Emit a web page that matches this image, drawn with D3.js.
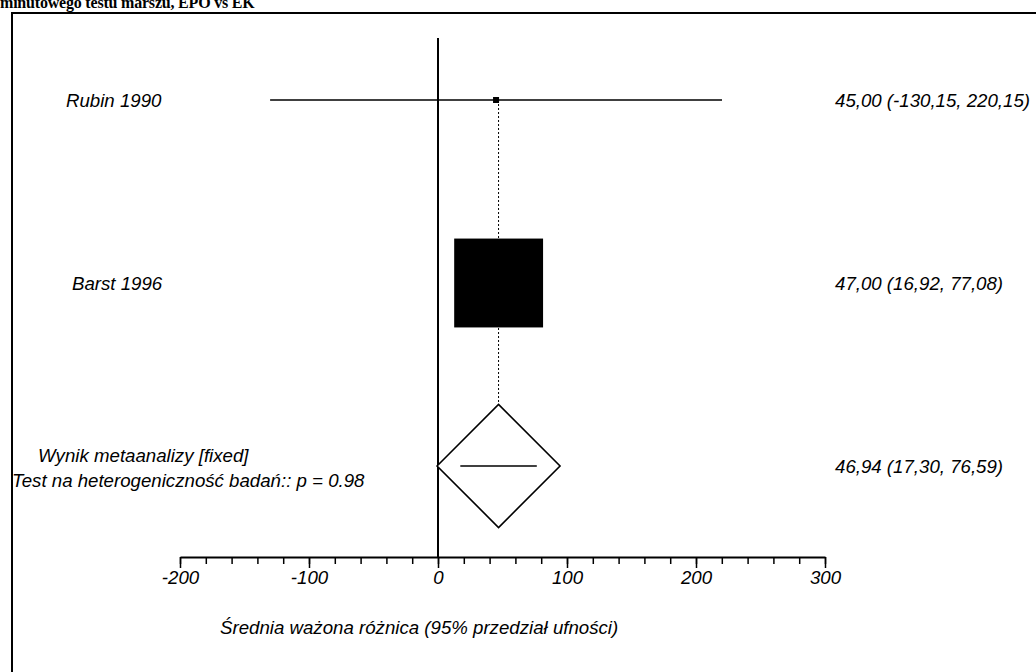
<!DOCTYPE html>
<html>
<head>
<meta charset="utf-8">
<script src="https://cdn.jsdelivr.net/npm/d3@7"></script>
<style>
  body { margin: 0; background: #fff; }
  svg { display: block; }
  .lbl { font-family: "Liberation Sans", Arial, sans-serif; font-style: italic; font-size: 18.67px; fill: #000; }
  .axis text { font-family: "Liberation Sans", Arial, sans-serif; font-style: italic; font-size: 18.67px; fill: #000; }
</style>
</head>
<body>
<svg width="1036" height="672"></svg>
<script>
// study data
const studies = ["Rubin 1990", "Barst 1996"];
const means = [45.00, 47.00];
const lower = [-130.15, 16.92];
const upper = [220.15, 77.08];
const weights = [2.86, 97.14];
const ciText = ["45,00 (-130,15, 220,15)", "47,00 (16,92, 77,08)"];

// pooled result
const pooledLabel = ["Wynik metaanalizy [fixed]", "Test na heterogeniczność badań:: p = 0.98"];
const pooled = { mean: 46.94, lower: 17.30, upper: 76.59, text: "46,94 (17,30, 76,59)" };

const majorTicks = [-200, -100, 0, 100, 200, 300];
const minorTicks = d3.range(-200, 301, 20);

const svg = d3.select('svg');

// title (clipped at top like the source)
svg.append('text')
  .attr('x', 0)
  .attr('y', 8)
  .style('font-family', '"Liberation Serif", "Times New Roman", serif')
  .style('font-weight', 'bold')
  .style('font-size', '16px')
  .style('letter-spacing', '-0.2px')
  .text('minutowego testu marszu, EPO vs EK');

// frame
svg.append('path')
  .attr('d', 'M12,680 L12,13 L1040,13')
  .attr('fill', 'none')
  .attr('stroke', '#000')
  .attr('stroke-width', 2);

const xScale = d3.scaleLinear().domain([-200, 300]).range([180, 825]);
const rows = studies.concat(['pooled']);
const yScale = d3.scalePoint().domain(rows).range([100, 466]);
const boxScale = d3.scaleLinear().domain([0, 100]).range([0, 91.5]);

const axisY = 557;

// zero line
svg.append('line')
  .attr('x1', xScale(0)).attr('x2', xScale(0))
  .attr('y1', 38).attr('y2', axisY)
  .attr('stroke', '#000').attr('stroke-width', 2);

// dotted line through pooled estimate
svg.append('line')
  .attr('x1', xScale(pooled.mean)).attr('x2', xScale(pooled.mean))
  .attr('y1', yScale(studies[0])).attr('y2', yScale('pooled') - 61)
  .attr('stroke', '#000').attr('stroke-width', 1)
  .attr('stroke-dasharray', '2,2');

// axes
svg.append('g')
  .attr('class', 'axis')
  .attr('transform', `translate(0, ${axisY})`)
  .call(d3.axisBottom(xScale).tickValues(minorTicks).tickSize(7).tickFormat(''))
  .call(g => g.select('.domain').remove())
  .selectAll('line').attr('stroke-width', 1.5);

const xAxis = svg.append('g')
  .attr('class', 'axis')
  .attr('transform', `translate(0, ${axisY})`)
  .call(d3.axisBottom(xScale).tickValues(majorTicks).tickSize(11).tickSizeOuter(0).tickPadding(3)
    .tickFormat(d => String(d)));
xAxis.select('.domain').attr('stroke-width', 2);
xAxis.selectAll('line').attr('stroke-width', 1.5);

// study rows
const row = svg.selectAll('.study')
  .data(studies)
  .enter()
  .append('g')
  .attr('class', 'study');

row.append('line')
  .attr('x1', (d, i) => xScale(lower[i]))
  .attr('x2', (d, i) => xScale(upper[i]))
  .attr('y1', d => yScale(d))
  .attr('y2', d => yScale(d))
  .attr('stroke', '#000').attr('stroke-width', 1.6);

row.append('rect')
  .attr('x', (d, i) => xScale(means[i]) - Math.max(6, boxScale(weights[i])) / 2)
  .attr('y', (d, i) => yScale(d) - Math.max(6, boxScale(weights[i])) / 2)
  .attr('width', (d, i) => Math.max(6, boxScale(weights[i])))
  .attr('height', (d, i) => Math.max(6, boxScale(weights[i])))
  .attr('fill', '#000');

row.append('text')
  .attr('class', 'lbl')
  .attr('x', (d, i) => i === 0 ? 66 : 72)
  .attr('y', d => yScale(d))
  .attr('dy', '0.35em')
  .text(d => d);

row.append('text')
  .attr('class', 'lbl')
  .attr('x', 835)
  .attr('y', d => yScale(d))
  .attr('dy', '0.35em')
  .text((d, i) => ciText[i]);

// pooled diamond
const py = yScale('pooled');
const px = xScale(pooled.mean);
const half = 61.5;
svg.append('path')
  .attr('d', `M${px - half},${py} L${px},${py - half} L${px + half},${py} L${px},${py + half} Z`)
  .attr('fill', '#fff')
  .attr('stroke', '#000')
  .attr('stroke-width', 1.6);

svg.append('line')
  .attr('x1', xScale(pooled.lower)).attr('x2', xScale(pooled.upper))
  .attr('y1', py).attr('y2', py)
  .attr('stroke', '#000').attr('stroke-width', 1.6);

svg.append('text')
  .attr('class', 'lbl')
  .attr('x', 835)
  .attr('y', py)
  .attr('dy', '0.35em')
  .text(pooled.text);

svg.append('text')
  .attr('class', 'lbl')
  .attr('x', 38)
  .attr('y', 462)
  .text(pooledLabel[0]);

svg.append('text')
  .attr('class', 'lbl')
  .attr('x', 12)
  .attr('y', 487)
  .text(pooledLabel[1]);

// axis title
svg.append('text')
  .attr('class', 'lbl')
  .attr('x', 220)
  .attr('y', 634)
  .text('Średnia ważona różnica (95% przedział ufności)');
</script>
</body>
</html>
